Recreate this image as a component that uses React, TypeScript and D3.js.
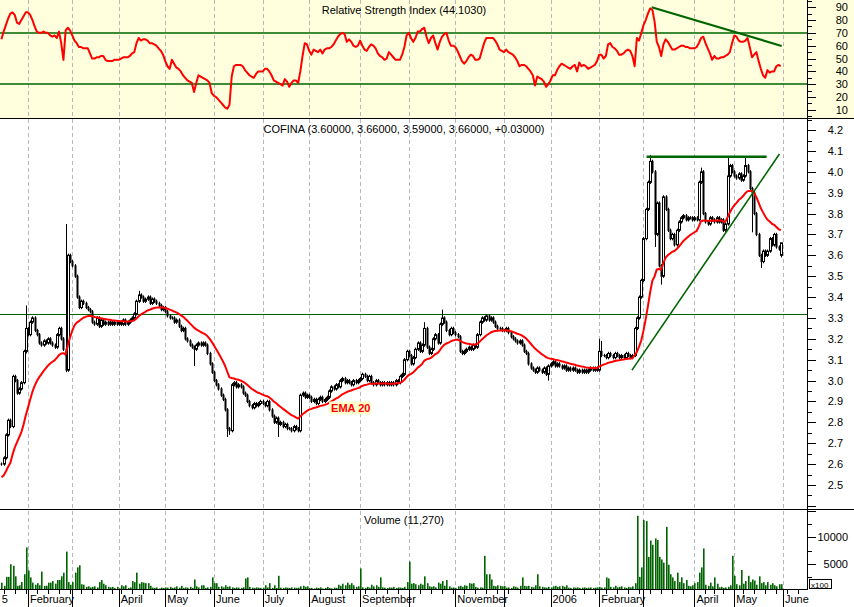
import React from "react";
import * as d3 from "d3";

// ---------------- DATA ----------------
const HOLIDAYS = ["2005-03-25", "2005-03-28", "2005-12-26", "2006-04-14", "2006-04-17", "2006-05-01"];
const CAL_START = [2005, 0, 3];
const CAL_END = [2006, 5, 30];
const DATA_START = "2005-01-14";
const MONTH_NAMES = ["January", "February", "March", "April", "May", "June", "July", "August", "September", "October", "November", "December"];

const close2005_01 = [2.60, 2.63, 2.74, 2.81, 2.78, 3.02, 3.00, 2.94, 2.96, 2.99, 3.14, 3.25];
const close2005_02 = [3.22, 3.28, 3.30, 3.24, 3.22, 3.18, 3.17, 3.19, 3.18, 3.20, 3.18, 3.17, 3.16, 3.22, 3.25, 3.20, 3.15, 3.05, 3.60, 3.57];
const close2005_03 = [3.55, 3.50, 3.40, 3.35, 3.38, 3.37, 3.35, 3.34, 3.33, 3.28, 3.27, 3.30, 3.26, 3.29, 3.27, 3.28, 3.27, 3.28, 3.27, 3.28, 3.27];
const close2005_04 = [3.28, 3.27, 3.29, 3.27, 3.28, 3.29, 3.30, 3.32, 3.38, 3.41, 3.40, 3.38, 3.39, 3.40, 3.37, 3.39, 3.38, 3.37, 3.36, 3.34, 3.35];
const close2005_05 = [3.33, 3.31, 3.30, 3.30, 3.28, 3.29, 3.26, 3.24, 3.25, 3.20, 3.19, 3.17, 3.16, 3.15, 3.17, 3.18, 3.17, 3.18, 3.17, 3.13, 3.08, 3.04];
const close2005_06 = [3.00, 2.98, 2.96, 2.93, 2.91, 2.86, 2.77, 2.76, 2.98, 2.99, 2.97, 2.98, 2.97, 2.94, 2.93, 2.90, 2.88, 2.87, 2.89, 2.88, 2.89, 2.90];
const close2005_07 = [2.89, 2.88, 2.90, 2.86, 2.83, 2.80, 2.82, 2.79, 2.80, 2.78, 2.79, 2.77, 2.77, 2.76, 2.78, 2.77, 2.76, 2.93, 2.94, 2.92, 2.93];
const close2005_08 = [2.92, 2.90, 2.91, 2.89, 2.91, 2.92, 2.90, 2.91, 2.92, 2.95, 2.97, 2.96, 2.98, 2.97, 3.00, 3.01, 2.99, 3.00, 2.99, 2.98, 3.00, 2.99, 3.00];
const close2005_09 = [3.01, 3.03, 3.02, 3.00, 3.02, 2.99, 2.98, 3.00, 2.99, 2.98, 2.99, 2.98, 2.99, 2.98, 2.99, 2.98, 3.00, 2.99, 3.02, 3.03, 3.10, 3.14];
const close2005_10 = [3.12, 3.08, 3.11, 3.15, 3.18, 3.14, 3.17, 3.25, 3.16, 3.13, 3.15, 3.20, 3.22, 3.18, 3.27, 3.30, 3.28, 3.24, 3.22, 3.25, 3.23];
const close2005_11 = [3.22, 3.21, 3.14, 3.13, 3.14, 3.15, 3.16, 3.15, 3.17, 3.16, 3.22, 3.28, 3.30, 3.29, 3.31, 3.29, 3.30, 3.28, 3.26, 3.25, 3.25, 3.24];
const close2005_12 = [3.24, 3.25, 3.23, 3.21, 3.20, 3.19, 3.18, 3.19, 3.17, 3.14, 3.13, 3.08, 3.06, 3.05, 3.04, 3.06, 3.05, 3.04, 3.06, 3.03, 3.07];
const close2006_01 = [3.08, 3.09, 3.07, 3.08, 3.07, 3.06, 3.07, 3.05, 3.06, 3.05, 3.06, 3.05, 3.04, 3.05, 3.04, 3.05, 3.04, 3.05, 3.06, 3.05, 3.06, 3.05];
const close2006_02 = [3.14, 3.12, 3.12, 3.11, 3.13, 3.12, 3.11, 3.13, 3.12, 3.11, 3.12, 3.11, 3.13, 3.12, 3.11, 3.12, 3.25, 3.30, 3.40, 3.48];
const close2006_03 = [3.68, 3.82, 3.95, 4.05, 4.00, 3.70, 3.85, 3.55, 3.50, 3.88, 3.82, 3.72, 3.68, 3.70, 3.65, 3.72, 3.76, 3.78, 3.79, 3.77, 3.78, 3.78, 3.77];
const close2006_04 = [3.78, 3.77, 3.95, 4.00, 3.80, 3.76, 3.75, 3.78, 3.77, 3.76, 3.78, 3.76, 3.77, 3.72, 3.75, 3.98, 4.03, 4.00];
const close2006_05 = [3.98, 3.97, 3.99, 3.96, 3.98, 4.03, 4.00, 3.92, 3.90, 3.80, 3.70, 3.60, 3.57, 3.62, 3.60, 3.62, 3.68, 3.65, 3.70, 3.64, 3.63, 3.66];

// notable intraday extremes (bar number, high, low)
const wickBar = [11, 29, 62, 87, 102, 103, 125, 191, 199, 247, 270, 271, 293, 295, 298, 316, 328, 336, 339, 343];
const wickHigh = [3.36, 3.75, 3.43, null, null, null, null, 3.28, 3.34, null, 3.20, 3.19, 4.08, null, null, 4.02, 4.07, 4.07, null, null];
const wickLow = [3.13, 3.04, null, 3.07, 2.73, 2.74, 2.73, null, null, 3.00, null, null, null, 3.64, 3.46, null, null, null, 3.71, 3.54];

const LAST_OPEN = 3.60, LAST_HIGH = 3.66, LAST_LOW = 3.59;
const LAST_VOLUME = 11270;
const EMA_PERIOD = 20;
const EMA_SEED = 2.53;

const rsiValues = [
  65, 71, 76, 81, 85, 86, 84, 78, 77, 80,
  83, 86, 86, 84, 80, 75, 71, 70, 70, 71,
  70, 70, 68, 67, 68, 66, 71, 62, 49, 72,
  74, 72, 68, 64, 62, 59, 59, 58, 58, 58,
  54, 50, 50, 51, 51, 52, 52, 49, 48, 48,
  48, 49, 49, 49, 50, 51, 51, 51, 52, 54,
  55, 62, 66, 64, 65, 65, 64, 62, 62, 61,
  60, 58, 56, 53, 48, 44, 42, 49, 46, 43,
  42, 40, 37, 35, 33, 32, 31, 24, 31, 37,
  36, 35, 34, 33, 31, 23, 21, 20, 18, 16,
  14, 12, 11, 14, 36, 44, 45, 45, 45, 44,
  41, 39, 37, 36, 35, 38, 40, 40, 40, 42,
  42, 40, 37, 33, 32, 31, 30, 29, 34, 32,
  28, 31, 33, 33, 31, 40, 52, 62, 61, 56,
  53, 57, 56, 55, 57, 54, 57, 58, 58, 59,
  61, 64, 67, 69, 70, 69, 63, 65, 63, 60,
  59, 60, 64, 60, 57, 56, 59, 61, 60, 58,
  54, 52, 51, 49, 50, 55, 53, 51, 49, 49,
  49, 53, 59, 68, 70, 66, 63, 66, 71, 71,
  73, 74, 67, 62, 66, 68, 62, 57, 63, 67,
  69, 70, 64, 60, 60, 59, 56, 52, 48, 46,
  48, 51, 53, 52, 49, 49, 50, 56, 62, 66,
  66, 66, 66, 64, 61, 57, 56, 55, 57, 55,
  54, 53, 51, 48, 44, 45, 45, 44, 42, 40,
  37, 29, 36, 35, 34, 32, 28, 30, 33, 37,
  37, 41, 44, 46, 45, 44, 43, 42, 44, 45,
  40, 47, 44, 45, 44, 42, 43, 44, 45, 48,
  53, 53, 50, 52, 61, 62, 59, 58, 56, 53,
  53, 54, 56, 57, 56, 52, 44, 66, 64, 70,
  76, 80, 85, 89, 88, 79, 63, 59, 52, 61,
  65, 63, 60, 57, 57, 58, 59, 60, 60, 59,
  59, 58, 58, 58, 59, 62, 66, 67, 62, 58,
  54, 49, 52, 50, 50, 51, 51, 52, 53, 55,
  62, 68, 67, 64, 63, 63, 64, 66, 59, 51,
  53, 55, 48, 42, 37, 35, 41, 39, 40, 40,
  44, 45, 44.103,
];

const volumeValues = [
  1400, 800, 2500, 2500, 4900, 4600, 2600, 800, 900, 1500,
  3000, 8100, 3700, 2400, 1400, 1000, 1300, 900, 3500, 800,
  800, 1400, 1400, 1700, 1200, 1900, 1900, 2600, 3300, 7300,
  1500, 1000, 1500, 3300, 4300, 4700, 1100, 1000, 600, 700,
  500, 600, 700, 500, 1500, 1900, 1200, 900, 600, 500,
  600, 400, 600, 300, 900, 700, 900, 400, 500, 1700,
  1500, 3300, 1200, 1500, 1400, 1300, 1300, 800, 450, 400,
  500, 300, 450, 400, 500, 450, 600, 400, 500, 700,
  450, 800, 400, 500, 450, 600, 400, 2000, 700, 500,
  900, 900, 400, 500, 600, 2400, 1300, 1300, 600, 700,
  500, 900, 600, 700, 500, 400, 500, 450, 400, 500,
  2200, 2400, 600, 450, 400, 500, 450, 400, 450, 900,
  500, 1300, 400, 900, 400, 2700, 450, 400, 500, 450,
  400, 500, 450, 400, 450, 700, 800, 600, 700, 400,
  400, 300, 450, 400, 500, 300, 400, 600, 400, 300,
  450, 400, 1000, 800, 1200, 900, 1400, 1000, 1300, 900,
  600, 700, 4100, 500, 400, 600, 450, 1000, 700, 900,
  600, 2400, 500, 450, 400, 500, 450, 600, 400, 500,
  450, 400, 600, 1500, 5400, 1200, 1300, 1100, 900, 1200,
  1000, 2600, 1300, 700, 600, 700, 500, 1400, 1200, 1700,
  800, 1900, 700, 450, 500, 400, 700, 800, 600, 900,
  800, 1300, 1200, 1300, 600, 450, 500, 450, 6500, 3000,
  3000, 2000, 800, 700, 900, 800, 700, 800, 450, 500,
  400, 700, 600, 450, 800, 2400, 800, 700, 800, 600,
  500, 900, 3000, 700, 600, 500, 450, 600, 500, 700,
  800, 600, 700, 800, 600, 900, 450, 400, 500, 450,
  500, 400, 450, 500, 400, 450, 500, 400, 450, 500,
  600, 450, 500, 2400, 2200, 600, 500, 800, 500, 600,
  700, 500, 400, 600, 500, 700, 1300, 14100, 2500, 4300,
  13300, 13100, 6300, 9400, 8600, 9800, 9500, 6300, 5800, 5200,
  12000, 4800, 3000, 2400, 1700, 3300, 1500, 2400, 1300, 1900,
  800, 700, 900, 1300, 1500, 3300, 4300, 7900, 1000, 800,
  1400, 700, 2400, 1200, 500, 600, 400, 500, 600, 900,
  6500, 2700, 1100, 900, 3800, 1200, 1700, 2700, 1500, 2000,
  1800, 1000, 2600, 1300, 1500, 900, 1500, 1000, 1300, 900,
  700, 1100, 1100,
];

// annotation lines (bar number, value)
const upTrendBar = [284.8, 351.4];
const upTrendVal = [3.05, 4.085];
const resistBar = [291.4, 345.6];
const resistVal = [4.072, 4.072];
const rsiTrendBar = [293.7, 352.4];
const rsiTrendVal = [90.0, 59.8];
const SUPPORT_LEVEL = 3.32;
const RSI_LEVELS = [70, 30];

const RSI_TICKS = [10, 20, 30, 40, 50, 60, 70, 80, 90];
const PRICE_TICKS = [2.5, 2.6, 2.7, 2.8, 2.9, 3.0, 3.1, 3.2, 3.3, 3.4, 3.5, 3.6, 3.7, 3.8, 3.9, 4.0, 4.1, 4.2];
const VOLUME_TICKS = [5000, 10000];

// ---------------- LAYOUT ----------------
const W = 854, H = 607;
const PR = 808; // right edge of plot area
const RSI_Y = [0, 118];
const PRICE_Y = [119, 509];
const VOL_Y = [509, 590];
const AXIS_Y = 589.5;
const X_DOMAIN = [8.35, 373.3]; // visible window in trading-day index
const RSI_DOMAIN = [3.7, 95.6];
const PRICE_DOMAIN = [2.385, 4.253];
const VOL_DOMAIN = [0, 15400];
const FONT = "'Liberation Sans', Arial, Helvetica, sans-serif";
const GREEN = "#006400";

const fmtDay = d3.timeFormat("%Y-%m-%d");

function buildDays(): Date[] {
  const hol = new Set(HOLIDAYS);
  const out: Date[] = [];
  const end = new Date(CAL_END[0], CAL_END[1], CAL_END[2]);
  for (let d = new Date(CAL_START[0], CAL_START[1], CAL_START[2]); d <= end; d = d3.timeDay.offset(d, 1)) {
    const wd = d.getDay();
    if (wd === 0 || wd === 6) continue;
    if (hol.has(fmtDay(d))) continue;
    out.push(d);
  }
  return out;
}

let measureCtx: CanvasRenderingContext2D | null = null;
function textWidth(s: string, size: number) {
  if (!measureCtx) {
    const c = document.createElement("canvas");
    measureCtx = c.getContext("2d");
  }
  if (!measureCtx) return s.length * size * 0.55;
  measureCtx.font = `${size}px ${FONT}`;
  return measureCtx.measureText(s).width;
}

export default function App() {
  const days = buildDays();
  const off = days.findIndex((d) => fmtDay(d) === DATA_START);
  const closes = [
    ...close2005_01, ...close2005_02, ...close2005_03, ...close2005_04, ...close2005_05, ...close2005_06,
    ...close2005_07, ...close2005_08, ...close2005_09, ...close2005_10, ...close2005_11, ...close2005_12,
    ...close2006_01, ...close2006_02, ...close2006_03, ...close2006_04, ...close2006_05,
  ];
  const n = closes.length;

  const x = d3.scaleLinear().domain(X_DOMAIN).range([0, PR]);
  const xb = (g: number) => x(g + off);
  const yR = d3.scaleLinear().domain(RSI_DOMAIN).range([RSI_Y[1], RSI_Y[0]]);
  const yP = d3.scaleLinear().domain(PRICE_DOMAIN).range([PRICE_Y[1], PRICE_Y[0]]);
  const yV = d3.scaleLinear().domain(VOL_DOMAIN).range([VOL_Y[1], VOL_Y[0]]);

  // EMA
  const alpha = 2 / (EMA_PERIOD + 1);
  const ema: number[] = [];
  let e = EMA_SEED;
  closes.forEach((c) => {
    e = e + (c - e) * alpha;
    ema.push(e);
  });

  // OHLC
  const bars = closes.map((c, g) => {
    let o = g > 0 ? closes[g - 1] : c;
    if (g === n - 1) o = LAST_OPEN;
    let hi = Math.max(o, c) + 0.008;
    let lo = Math.min(o, c) - 0.008;
    const wi = wickBar.indexOf(g);
    if (wi >= 0) {
      if (wickHigh[wi] != null) hi = wickHigh[wi] as number;
      if (wickLow[wi] != null) lo = wickLow[wi] as number;
    }
    if (g === n - 1) { hi = LAST_HIGH; lo = LAST_LOW; }
    return { g, o, c, hi, lo };
  });

  // months & weeks
  const monthStarts: { k: number; label: string }[] = [];
  const weekStarts: number[] = [];
  days.forEach((d, k) => {
    const p = k > 0 ? days[k - 1] : null;
    if (!p || p.getMonth() !== d.getMonth()) {
      monthStarts.push({ k, label: d.getMonth() === 0 ? String(d.getFullYear()) : MONTH_NAMES[d.getMonth()] });
    }
    if (p && d.getDay() < p.getDay()) weekStarts.push(k);
  });
  const visibleMonths = monthStarts.filter((m) => x(m.k) <= PR + 1);
  const labels: { x: number; label: string }[] = [];
  let lastEnd = -Infinity;
  visibleMonths.forEach((m) => {
    let tx = x(m.k) + 2;
    let label = m.label;
    // a label that starts left of the chart shows only its characters that fit
    while (tx < 0 && label.length > 1) {
      tx += textWidth(label[0], 11);
      label = label.slice(1);
    }
    const w = textWidth(label, 11);
    if (tx >= lastEnd + 3) {
      labels.push({ x: tx, label });
      lastEnd = tx + w;
    }
  });

  const rsiLine = d3.line<number>().x((_, g) => xb(g)).y((v) => yR(v));
  const emaLine = d3.line<number>().x((_, g) => xb(g)).y((v) => yP(v));

  const crisp = (v: number) => Math.round(v) + 0.5;
  const lastClose = closes[n - 1];
  const change = lastClose - closes[n - 2];
  const f5 = d3.format(".5f");
  const priceTitle = `COFINA (${f5(LAST_OPEN)}, ${f5(LAST_HIGH)}, ${f5(LAST_LOW)}, ${f5(lastClose)}, ${change >= 0 ? "+" : ""}${f5(change)})`;
  const rsiTitle = `Relative Strength Index (${d3.format(".4f")(rsiValues[n - 1])})`;
  const volTitle = `Volume (${d3.format(",")(LAST_VOLUME)})`;

  const emaLabelBar = 148;
  const emaLabelX = xb(emaLabelBar);
  const emaLabelY = yP(2.90);

  const priceMinor = d3.range(2.4, 4.26, 0.05).map((v) => +v.toFixed(2));
  const rsiMinor = d3.range(5, 100, 5);

  return (
    <svg width={W} height={H} style={{ position: "absolute", left: 0, top: 0, background: "#fff" }} fontFamily={FONT}>
      <defs>
        <clipPath id="cR"><rect x={0} y={RSI_Y[0]} width={PR} height={RSI_Y[1] - RSI_Y[0]} /></clipPath>
        <clipPath id="cP"><rect x={0} y={PRICE_Y[0]} width={PR} height={PRICE_Y[1] - PRICE_Y[0]} /></clipPath>
        <clipPath id="cV"><rect x={0} y={VOL_Y[0]} width={PR} height={AXIS_Y - VOL_Y[0]} /></clipPath>
      </defs>
      {/* backgrounds */}
      <rect x={0} y={0} width={W} height={RSI_Y[1]} fill="#ffffdd" />
      {/* month gridlines */}
      {visibleMonths.map((m, i) => (
        <line key={"g" + i} x1={crisp(x(m.k))} x2={crisp(x(m.k))} y1={0} y2={AXIS_Y} stroke="#b8b8b8" strokeDasharray="4,3" />
      ))}
      {/* horizontal levels */}
      {RSI_LEVELS.map((v) => (
        <line key={"rl" + v} x1={0} x2={PR} y1={Math.round(yR(v))} y2={Math.round(yR(v))} stroke={GREEN} strokeWidth={1.5} />
      ))}
      <line x1={0} x2={PR} y1={crisp(yP(SUPPORT_LEVEL))} y2={crisp(yP(SUPPORT_LEVEL))} stroke={GREEN} strokeWidth={1} />

      {/* RSI */}
      <g clipPath="url(#cR)">
        <path d={rsiLine(rsiValues) || ""} fill="none" stroke="#ff0000" strokeWidth={2} strokeLinejoin="round" />
        <line x1={xb(rsiTrendBar[0])} y1={yR(rsiTrendVal[0])} x2={xb(rsiTrendBar[1])} y2={yR(rsiTrendVal[1])} stroke={GREEN} strokeWidth={2.2} />
      </g>

      {/* price candles */}
      <g clipPath="url(#cP)">
        {bars.map((b) => {
          const cx = Math.round(xb(b.g));
          const yo = yP(b.o), yc = yP(b.c);
          const top = Math.min(yo, yc), bot = Math.max(yo, yc);
          const up = b.c > b.o;
          return (
            <g key={"c" + b.g}>
              <line x1={cx + 0.5} x2={cx + 0.5} y1={yP(b.hi)} y2={yP(b.lo)} stroke="#000" strokeWidth={1} />
              {up ? (
                <rect x={cx - 0.5} y={top} width={2} height={Math.max(1, bot - top)} fill="#fff" stroke="#000" strokeWidth={1} />
              ) : (
                <rect x={cx - 0.5} y={top - 0.5} width={2} height={Math.max(1, bot - top + 1)} fill="#000" />
              )}
            </g>
          );
        })}
        <path d={emaLine(ema) || ""} fill="none" stroke="#ff0000" strokeWidth={2} strokeLinejoin="round" />
        <line x1={xb(upTrendBar[0])} y1={yP(upTrendVal[0])} x2={xb(upTrendBar[1])} y2={yP(upTrendVal[1])} stroke={GREEN} strokeWidth={1.6} />
        <line x1={xb(resistBar[0])} y1={yP(resistVal[0])} x2={xb(resistBar[1])} y2={yP(resistVal[1])} stroke={GREEN} strokeWidth={2.4} />
        <rect x={emaLabelX} y={emaLabelY} width={42} height={13} fill="#ffffcc" />
        <text x={emaLabelX + 2} y={emaLabelY + 11} fontSize={11} fontWeight="bold" fill="#ff0000">EMA 20</text>
      </g>

      {/* volume */}
      <g clipPath="url(#cV)">
        {volumeValues.map((v, g) => (
          <rect key={"v" + g} x={Math.round(xb(g))} y={yV(v)} width={1.6} height={yV(0) - yV(v)} fill="#006400" />
        ))}
      </g>

      {/* frames */}
      <line x1={0} x2={W} y1={118.5} y2={118.5} stroke="#000" />
      <line x1={0} x2={W} y1={509.5} y2={509.5} stroke="#000" />
      <line x1={0} x2={PR} y1={AXIS_Y} y2={AXIS_Y} stroke="#000" />
      <line x1={PR - 0.5} x2={PR - 0.5} y1={0} y2={AXIS_Y} stroke="#000" />

      {/* RSI axis */}
      {rsiMinor.map((v) => {
        const major = v % 10 === 0;
        const yy = crisp(yR(v));
        if (yy < 0 || yy > RSI_Y[1]) return null;
        return <line key={"rt" + v} x1={PR} x2={PR + (major ? 8 : 4)} y1={yy} y2={yy} stroke="#000" />;
      })}
      {RSI_TICKS.map((v) => (
        <text key={"rl" + v} x={848} y={yR(v) + 4} fontSize={11} textAnchor="end">{v}</text>
      ))}

      {/* price axis */}
      {priceMinor.map((v) => {
        const major = Math.abs(v * 10 - Math.round(v * 10)) < 1e-6;
        const yy = crisp(yP(v));
        if (yy < PRICE_Y[0] || yy > PRICE_Y[1]) return null;
        return <line key={"pt" + v} x1={PR} x2={PR + (major ? 8 : 4)} y1={yy} y2={yy} stroke="#000" />;
      })}
      {PRICE_TICKS.map((v) => (
        <text key={"pl" + v} x={843} y={yP(v) + 4} fontSize={11} textAnchor="end">{d3.format(".1f")(v)}</text>
      ))}

      {/* volume axis */}
      {[2500, 5000, 7500, 10000, 12500, 15000].map((v) => {
        const major = v % 5000 === 0;
        const yy = crisp(yV(v));
        return <line key={"vt" + v} x1={PR} x2={PR + (major ? 8 : 4)} y1={yy} y2={yy} stroke="#000" />;
      })}
      {VOLUME_TICKS.map((v) => (
        <text key={"vl" + v} x={848} y={yV(v) + 4} fontSize={11} textAnchor="end">{v}</text>
      ))}
      <rect x={809.5} y={579.5} width={22} height={9} fill="#fff" stroke="#000" />
      <text x={811} y={587.5} fontSize={8}>x100</text>

      {/* x axis */}
      {weekStarts.filter((k) => x(k) >= 0 && x(k) <= PR).map((k) => (
        <line key={"w" + k} x1={crisp(x(k))} x2={crisp(x(k))} y1={AXIS_Y} y2={594} stroke="#000" />
      ))}
      {visibleMonths.filter((m) => x(m.k) >= 0).map((m, i) => (
        <line key={"mt" + i} x1={crisp(x(m.k))} x2={crisp(x(m.k))} y1={AXIS_Y} y2={H} stroke="#000" />
      ))}
      {labels.map((l, i) => (
        <text key={"ml" + i} x={l.x} y={603} fontSize={11}>{l.label}</text>
      ))}

      {/* titles */}
      <text x={PR / 2} y={14} fontSize={11} textAnchor="middle">{rsiTitle}</text>
      <text x={PR / 2} y={133} fontSize={11} textAnchor="middle">{priceTitle}</text>
      <text x={PR / 2} y={524} fontSize={11} textAnchor="middle">{volTitle}</text>
    </svg>
  );
}
